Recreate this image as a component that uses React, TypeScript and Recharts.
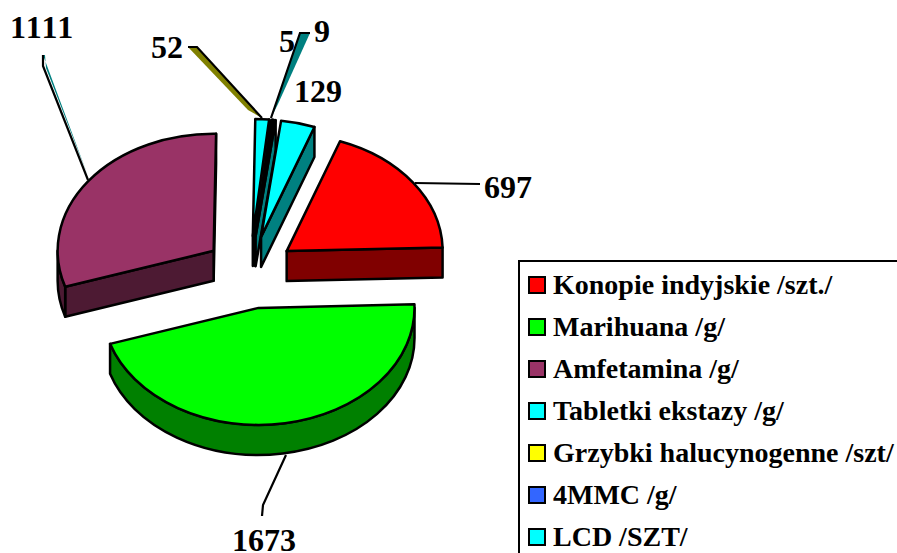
import React from 'react';
import { PieChart, Pie, Legend } from 'recharts';

// Sector order as drawn in the picture (clockwise)
const SECTOR_NAMES = ['Konopie', 'Marihuana', 'Amfetamina', 'Grzybki', '4MMC', 'LCD', 'Tabletki'];
const SECTOR_VALUES = [697, 1673, 1111, 52, 5, 9, 129];
const SECTOR_FILLS = ['#FF0000', '#00FF00', '#993366', '#00FFFF', '#3366FF', '#00FFFF', '#00FFFF'];
const SECTOR_SIDES = ['#800000', '#008000', '#4D1A33', '#008080', '#1A3380', '#008080', '#008080'];

const LEGEND_LABELS = [
  'Konopie indyjskie /szt./',
  'Marihuana /g/',
  'Amfetamina /g/',
  'Tabletki ekstazy /g/',
  'Grzybki halucynogenne /szt/',
  '4MMC /g/',
  'LCD /SZT/',
];
const LEGEND_COLORS = ['#FF0000', '#00FF00', '#993366', '#00FFFF', '#FFFF00', '#3366FF', '#00FFFF'];

const W = 897;
const H = 553;
const CX = 250;
const CY = 271;
const RX = 156;
const TILT = 0.75;
const DEPTH = 30;
const EXPLODES = [0.29, 0.32, 0.29, 0.3, 0.3, 0.3, 0.3];
const FONT = '"Liberation Serif", "Times New Roman", serif';

// text anchor, leader polyline and optional sliver per sector index
const LABEL_LAYOUT: Record<number, { x: number; y: number; spacing?: number; line?: number[][]; sliver?: number[][]; color?: string }> = {
  0: { x: 484, y: 198, line: [[415, 183], [480, 184]] },
  1: { x: 232, y: 551, line: [[286, 455], [263, 505], [262, 516]] },
  2: {
    x: 10, y: 38, spacing: 1.5,
    line: [[88, 180], [43, 66], [43, 55]],
    sliver: [[43, 55], [45, 55], [46, 68], [88, 176]],
    color: '#008080',
  },
  3: {
    x: 151, y: 58,
    line: [[262, 118], [197, 47], [188, 47]],
    sliver: [[188, 47], [197, 47], [262, 118], [248, 110]],
    color: '#808000',
  },
  4: { x: 279, y: 52 },
  5: {
    x: 314, y: 42,
    line: [[271, 118], [300, 33], [310, 33]],
    sliver: [[300, 33], [310, 33], [278, 104], [271, 118]],
    color: '#008080',
  },
  6: { x: 294, y: 102 },
};

const pieData = SECTOR_NAMES.map((name, i) => ({
  name,
  value: SECTOR_VALUES[i],
  fill: SECTOR_FILLS[i],
  side: SECTOR_SIDES[i],
  explode: EXPLODES[i],
}));

const rad = (d: number) => (d * Math.PI) / 180;

function Slice3D(props: any) {
  const { cx, cy, outerRadius, startAngle, endAngle, fill } = props;
  const side = props.side ?? props.payload?.side;
  const explode = props.explode ?? props.payload?.explode ?? 0.3;
  const s = 90 - startAngle;
  const e = 90 - endAngle;
  const rx = outerRadius;
  const ry = outerRadius * TILT;
  const mid = rad((s + e) / 2);
  const ox = cx + explode * rx * Math.sin(mid);
  const oy = cy - explode * ry * Math.cos(mid);
  const pt = (a: number, d = 0): [number, number] => [
    ox + rx * Math.sin(rad(a)),
    oy - ry * Math.cos(rad(a)) + d,
  ];
  const arcTo = (a0: number, a1: number, d = 0) => {
    const [x, y] = pt(a1, d);
    const sweep = a1 > a0 ? 1 : 0;
    const large = Math.abs(a1 - a0) > 180 ? 1 : 0;
    return `A${rx} ${ry} 0 ${large} ${sweep} ${x} ${y}`;
  };
  const [sx, sy] = pt(s);
  const [ex, ey] = pt(e);
  const stroke = { stroke: '#000', strokeWidth: 2.5, strokeLinejoin: 'round' as const };

  const walls: React.ReactNode[] = [];
  // radial cut faces
  if (Math.sin(rad(e)) > 0.001) {
    walls.push(
      <path key="end" fill={side} {...stroke}
        d={`M${ox} ${oy}L${ex} ${ey}L${ex} ${ey + DEPTH}L${ox} ${oy + DEPTH}Z`} />
    );
  }
  if (Math.sin(rad(s)) < -0.001) {
    walls.push(
      <path key="start" fill={side} {...stroke}
        d={`M${ox} ${oy}L${sx} ${sy}L${sx} ${sy + DEPTH}L${ox} ${oy + DEPTH}Z`} />
    );
  }
  // front-facing rim
  const a0 = Math.max(s, 90);
  const a1 = Math.min(e, 270);
  if (a1 > a0) {
    const [x0, y0] = pt(a0);
    const [x1, y1] = pt(a1);
    walls.push(
      <path key="rim" fill={side} {...stroke}
        d={`M${x0} ${y0}${arcTo(a0, a1)}L${x1} ${y1 + DEPTH}${arcTo(a1, a0, DEPTH)}Z`} />
    );
  }
  return (
    <g>
      {walls}
      <path fill={fill} {...stroke} d={`M${ox} ${oy}L${sx} ${sy}${arcTo(s, e)}Z`} />
    </g>
  );
}

function ValueLabel(props: any) {
  const layout = LABEL_LAYOUT[props.index];
  if (!layout) return null;
  return (
    <g>
      {layout.sliver && (
        <polygon points={layout.sliver.map((p) => p.join(',')).join(' ')} fill={layout.color} stroke="none" />
      )}
      {layout.line && (
        <polyline points={layout.line.map((p) => p.join(',')).join(' ')} fill="none" stroke="#000" strokeWidth={2.2} />
      )}
      <text x={layout.x} y={layout.y} fontFamily={FONT} fontWeight={700} fontSize={32} fill="#000" textAnchor="start" letterSpacing={layout.spacing ?? 0}>
        {props.value}
      </text>
    </g>
  );
}

function LegendBox() {
  return (
    <div
      style={{
        width: 400,
        height: 320,
        boxSizing: 'border-box',
        border: '2px solid #000',
        background: '#fff',
        position: 'relative',
      }}
    >
      {LEGEND_LABELS.map((label, i) => (
        <div key={label} style={{ position: 'absolute', left: 8, top: 9 + i * 42, height: 28, display: 'flex', alignItems: 'center' }}>
          <span style={{ width: 14, height: 14, border: '2.5px solid #000', background: LEGEND_COLORS[i], display: 'inline-block', marginRight: 7 }} />
          <span style={{ fontFamily: FONT, fontWeight: 700, fontSize: 28, whiteSpace: 'nowrap', color: '#000' }}>{label}</span>
        </div>
      ))}
    </div>
  );
}

export default function App() {
  return (
    <div style={{ position: 'fixed', left: 0, top: 0, width: W, height: H, overflow: 'hidden', background: '#fff' }}>
      <PieChart width={W} height={H} margin={{ top: 0, right: 0, bottom: 0, left: 0 }}>
        <Pie
          data={pieData}
          dataKey="value"
          nameKey="name"
          cx={CX}
          cy={CY}
          outerRadius={RX}
          startAngle={70}
          endAngle={-290}
          stroke="#000"
          isAnimationActive={false}
          shape={Slice3D}
          label={ValueLabel}
          labelLine={false}
        />
        <Legend
          content={<LegendBox />}
          wrapperStyle={{ position: 'absolute', left: 518, top: 260, width: 400, height: 320, bottom: 'auto' }}
        />
      </PieChart>
    </div>
  );
}
